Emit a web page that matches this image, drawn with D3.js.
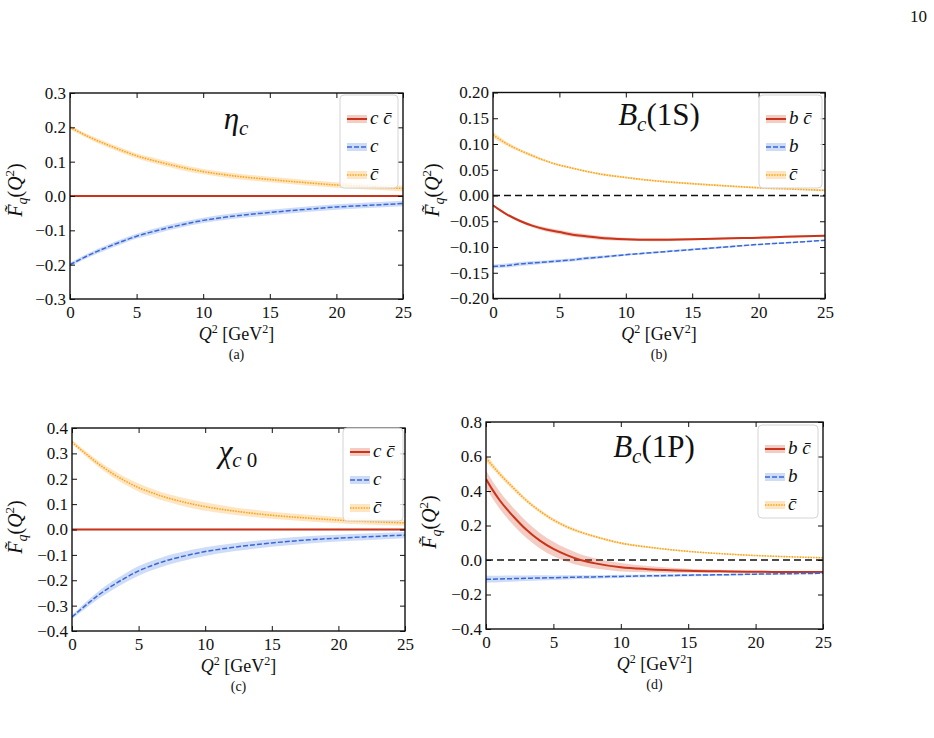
<!DOCTYPE html>
<html>
<head>
<meta charset="utf-8">
<script src="https://cdn.jsdelivr.net/npm/d3@7"></script>
<style>
  body { margin: 0; background: #fff; }
  svg text { font-family: "Liberation Serif", "Times New Roman", serif; fill: #111; }
</style>
</head>
<body>
<svg id="fig" width="934" height="738"></svg>
<script>
// Q^2 grid shared by every curve (GeV^2)
const q2 = [0, 0.5, 1, 2, 3, 4, 5, 6, 7, 8, 10, 12, 15, 18, 20, 22, 25];

// (a) eta_c
const etaQQ     = [0, 0, 0, 0, 0, 0, 0, 0, 0, 0, 0, 0, 0, 0, 0, 0, 0];
const etaQQErr  = [0.002, 0.002, 0.002, 0.002, 0.002, 0.002, 0.002, 0.002, 0.002, 0.002, 0.002, 0.002, 0.002, 0.002, 0.002, 0.002, 0.002];
const etaQ      = [-0.200, -0.190, -0.180, -0.162, -0.146, -0.131, -0.117, -0.106, -0.096, -0.087, -0.071, -0.060, -0.048, -0.038, -0.032, -0.028, -0.022];
const etaQErr   = [0.006, 0.006, 0.006, 0.007, 0.007, 0.007, 0.007, 0.008, 0.008, 0.008, 0.008, 0.008, 0.008, 0.008, 0.008, 0.008, 0.008];
const etaQbar   = [0.200, 0.190, 0.180, 0.162, 0.146, 0.131, 0.117, 0.106, 0.096, 0.087, 0.071, 0.060, 0.048, 0.038, 0.032, 0.028, 0.022];
const etaQbarErr= [0.006, 0.006, 0.006, 0.007, 0.007, 0.007, 0.007, 0.008, 0.008, 0.008, 0.008, 0.008, 0.008, 0.008, 0.008, 0.008, 0.008];

// (b) B_c(1S)
const bc1sQQ     = [-0.019, -0.028, -0.036, -0.049, -0.059, -0.066, -0.071, -0.076, -0.079, -0.082, -0.085, -0.086, -0.085, -0.083, -0.082, -0.080, -0.078];
const bc1sQQErr  = [0.001, 0.002, 0.002, 0.003, 0.003, 0.004, 0.004, 0.004, 0.004, 0.004, 0.003, 0.003, 0.002, 0.002, 0.002, 0.002, 0.002];
const bc1sQ      = [-0.138, -0.137, -0.136, -0.133, -0.131, -0.129, -0.127, -0.125, -0.122, -0.120, -0.115, -0.111, -0.105, -0.099, -0.095, -0.092, -0.087];
const bc1sQErr   = [0.004, 0.004, 0.004, 0.004, 0.004, 0.003, 0.003, 0.003, 0.003, 0.003, 0.002, 0.002, 0.002, 0.002, 0.001, 0.001, 0.001];
const bc1sQbar   = [0.118, 0.109, 0.101, 0.088, 0.077, 0.067, 0.059, 0.053, 0.047, 0.042, 0.035, 0.029, 0.023, 0.018, 0.015, 0.013, 0.010];
const bc1sQbarErr= [0.006, 0.005, 0.004, 0.003, 0.003, 0.002, 0.002, 0.002, 0.002, 0.002, 0.002, 0.002, 0.002, 0.002, 0.002, 0.002, 0.002];

// (c) chi_c0
const chiQQ     = [0, 0, 0, 0, 0, 0, 0, 0, 0, 0, 0, 0, 0, 0, 0, 0, 0];
const chiQQErr  = [0.003, 0.003, 0.003, 0.003, 0.003, 0.003, 0.003, 0.003, 0.003, 0.003, 0.003, 0.003, 0.003, 0.003, 0.003, 0.003, 0.003];
const chiQ      = [-0.345, -0.322, -0.300, -0.258, -0.222, -0.191, -0.163, -0.142, -0.124, -0.110, -0.087, -0.071, -0.053, -0.040, -0.034, -0.029, -0.022];
const chiQErr   = [0.008, 0.010, 0.012, 0.015, 0.017, 0.018, 0.019, 0.019, 0.019, 0.018, 0.017, 0.016, 0.015, 0.014, 0.013, 0.013, 0.012];
const chiQbar   = [0.345, 0.322, 0.300, 0.258, 0.222, 0.191, 0.165, 0.145, 0.127, 0.113, 0.090, 0.074, 0.056, 0.044, 0.037, 0.032, 0.026];
const chiQbarErr= [0.008, 0.009, 0.010, 0.012, 0.014, 0.015, 0.016, 0.016, 0.016, 0.016, 0.016, 0.015, 0.014, 0.013, 0.012, 0.012, 0.011];

// (d) B_c(1P)
const bc1pQQ     = [0.470, 0.405, 0.348, 0.255, 0.175, 0.112, 0.064, 0.028, 0.000, -0.018, -0.042, -0.053, -0.062, -0.066, -0.068, -0.069, -0.069];
const bc1pQQErr  = [0.050, 0.050, 0.050, 0.050, 0.048, 0.045, 0.042, 0.038, 0.034, 0.030, 0.024, 0.018, 0.012, 0.008, 0.006, 0.005, 0.004];
const bc1pQ      = [-0.112, -0.111, -0.110, -0.108, -0.106, -0.104, -0.103, -0.101, -0.099, -0.098, -0.095, -0.092, -0.088, -0.085, -0.082, -0.080, -0.077];
const bc1pQErr   = [0.020, 0.020, 0.019, 0.018, 0.016, 0.015, 0.013, 0.012, 0.011, 0.010, 0.009, 0.008, 0.007, 0.006, 0.005, 0.005, 0.004];
const bc1pQbar   = [0.590, 0.545, 0.500, 0.420, 0.345, 0.283, 0.232, 0.192, 0.162, 0.138, 0.098, 0.075, 0.050, 0.034, 0.026, 0.020, 0.013];
const bc1pQbarErr= [0.020, 0.018, 0.016, 0.014, 0.012, 0.011, 0.010, 0.009, 0.008, 0.007, 0.006, 0.005, 0.004, 0.003, 0.003, 0.003, 0.002];

// tick values
const xTicks = [0, 5, 10, 15, 20, 25];
const yTicksA = [-0.3, -0.2, -0.1, 0, 0.1, 0.2, 0.3];
const yTicksB = [-0.20, -0.15, -0.10, -0.05, 0, 0.05, 0.10, 0.15, 0.20];
const yTicksC = [-0.4, -0.3, -0.2, -0.1, 0, 0.1, 0.2, 0.3, 0.4];
const yTicksD = [-0.4, -0.2, 0, 0.2, 0.4, 0.6, 0.8];

const colRed = "#c9341a", colBlue = "#3868d8", colOrange = "#ffa312";
const bandRed = "rgba(215,90,60,0.30)", bandBlue = "rgba(95,140,230,0.30)", bandOrange = "rgba(255,175,70,0.33)";
const serif = "'Liberation Serif', 'Times New Roman', serif";

const svg = d3.select("#fig");

// page number
svg.append("text").attr("x", 927).attr("y", 22).attr("text-anchor", "end")
  .attr("font-family", serif).style("font-size", "17px").text("10");

const panels = [
  { tag: "(a)", x0: 70, x1: 403, y0: 93, y1: 299, dom: [-0.3, 0.3], ticks: yTicksA, fmt: ".1f",
    qq: etaQQ, qqErr: etaQQErr, q: etaQ, qErr: etaQErr, qb: etaQbar, qbErr: etaQbarErr,
    zero: false, names: ["c c\u0304", "c", "c\u0304"],
    leg: { x: 340, y: 95, w: 58 }, ylab: { x: 22, y: 190 },
    title: { x: 236, y: 129, parts: [["\u03b7", 31, "italic", 0], ["c", 21, "italic", 6]] } },
  { tag: "(b)", x0: 493, x1: 825, y0: 92.5, y1: 298.5, dom: [-0.2, 0.2], ticks: yTicksB, fmt: ".2f",
    qq: bc1sQQ, qqErr: bc1sQQErr, q: bc1sQ, qErr: bc1sQErr, qb: bc1sQbar, qbErr: bc1sQbarErr,
    zero: true, names: ["b c\u0304", "b", "c\u0304"],
    leg: { x: 759, y: 95, w: 63 }, ylab: { x: 439, y: 190 },
    title: { x: 659, y: 125, parts: [["B", 31, "italic", 0], ["c", 21, "italic", 6], ["(1S)", 31, "normal", -6]] } },
  { tag: "(c)", x0: 72, x1: 405, y0: 428, y1: 631, dom: [-0.4, 0.4], ticks: yTicksC, fmt: ".1f",
    qq: chiQQ, qqErr: chiQQErr, q: chiQ, qErr: chiQErr, qb: chiQbar, qbErr: chiQbarErr,
    zero: false, names: ["c c\u0304", "c", "c\u0304"],
    leg: { x: 343, y: 428, w: 60 }, ylab: { x: 22, y: 527 },
    title: { x: 238, y: 462, parts: [["\u03c7", 31, "italic", 0], ["c", 21, "italic", 5], [" 0", 21, "normal", 0]] } },
  { tag: "(d)", x0: 486, x1: 823, y0: 422, y1: 629, dom: [-0.4, 0.8], ticks: yTicksD, fmt: ".1f",
    qq: bc1pQQ, qqErr: bc1pQQErr, q: bc1pQ, qErr: bc1pQErr, qb: bc1pQbar, qbErr: bc1pQbarErr,
    zero: true, names: ["b c\u0304", "b", "c\u0304"],
    leg: { x: 758, y: 425, w: 60 }, ylab: { x: 436, y: 522 },
    title: { x: 654, y: 457, parts: [["B", 31, "italic", 0], ["c", 21, "italic", 6], ["(1P)", 31, "normal", -6]] } }
];

panels.forEach((p, pi) => drawPanel(p, pi));

function drawPanel(p, pi) {
  const x = d3.scaleLinear().domain([0, 25]).range([p.x0, p.x1]);
  const y = d3.scaleLinear().domain(p.dom).range([p.y1, p.y0]);
  const g = svg.append("g");

  g.append("clipPath").attr("id", "clip" + pi)
    .append("rect").attr("x", p.x0).attr("y", p.y0)
    .attr("width", p.x1 - p.x0).attr("height", p.y1 - p.y0);
  const plot = g.append("g").attr("clip-path", "url(#clip" + pi + ")");

  if (p.zero) {
    plot.append("line").attr("x1", p.x0).attr("x2", p.x1)
      .attr("y1", y(0)).attr("y2", y(0))
      .attr("stroke", "#111").attr("stroke-width", 1.5).attr("stroke-dasharray", "7,4");
  }

  const series = [
    { v: p.qq, e: p.qqErr, col: colRed, band: bandRed, dash: null, w: 2 },
    { v: p.q, e: p.qErr, col: colBlue, band: bandBlue, dash: "5,2", w: 1.5 },
    { v: p.qb, e: p.qbErr, col: colOrange, band: bandOrange, dash: "1.5,1.2", w: 1.6 }
  ];

  series.forEach(s => {
    const pts = q2.map((q, i) => ({ q: q, v: s.v[i], e: s.e[i] }));
    const area = d3.area().curve(d3.curveMonotoneX)
      .x(d => x(d.q)).y0(d => y(d.v - d.e)).y1(d => y(d.v + d.e));
    const line = d3.line().curve(d3.curveMonotoneX)
      .x(d => x(d.q)).y(d => y(d.v));
    plot.append("path").attr("d", area(pts)).attr("fill", s.band).attr("stroke", "none");
    plot.append("path").attr("d", line(pts)).attr("fill", "none")
      .attr("stroke", s.col).attr("stroke-width", s.w)
      .attr("stroke-dasharray", s.dash);
  });

  // axes: inward ticks on all four sides
  const fmt = d3.format(p.fmt);
  const axB = g.append("g").attr("transform", "translate(0," + p.y1 + ")")
    .call(d3.axisBottom(x).tickValues(xTicks).tickSize(-5).tickPadding(7).tickFormat(d3.format("d")));
  const axT = g.append("g").attr("transform", "translate(0," + p.y0 + ")")
    .call(d3.axisTop(x).tickValues(xTicks).tickSize(-5).tickFormat(""));
  const axL = g.append("g").attr("transform", "translate(" + p.x0 + ",0)")
    .call(d3.axisLeft(y).tickValues(p.ticks).tickSize(-5).tickPadding(4).tickFormat(fmt));
  const axR = g.append("g").attr("transform", "translate(" + p.x1 + ",0)")
    .call(d3.axisRight(y).tickValues(p.ticks).tickSize(-5).tickFormat(""));
  [axB, axT, axL, axR].forEach(a => {
    a.attr("font-family", serif).attr("font-size", 17);
    a.select(".domain").remove();
    a.selectAll("line").attr("stroke", "#111").attr("stroke-width", 1);
    a.selectAll("text").attr("fill", "#111");
  });

  g.append("rect").attr("x", p.x0).attr("y", p.y0)
    .attr("width", p.x1 - p.x0).attr("height", p.y1 - p.y0)
    .attr("fill", "none").attr("stroke", "#111").attr("stroke-width", 1.4);

  // legend
  const lg = g.append("g");
  lg.append("rect").attr("x", p.leg.x).attr("y", p.leg.y)
    .attr("width", p.leg.w).attr("height", 93).attr("rx", 4)
    .attr("fill", "#fff").attr("fill-opacity", 0.8)
    .attr("stroke", "#d4d4d4").attr("stroke-width", 1);
  series.forEach((s, i) => {
    const cy = p.leg.y + 24 + i * 28;
    const hx = p.leg.x + 7;
    lg.append("rect").attr("x", hx).attr("y", cy - 4).attr("width", 20).attr("height", 8)
      .attr("fill", s.band);
    lg.append("line").attr("x1", hx).attr("x2", hx + 20).attr("y1", cy).attr("y2", cy)
      .attr("stroke", s.col).attr("stroke-width", s.w).attr("stroke-dasharray", s.dash);
    lg.append("text").attr("x", hx + 23).attr("y", cy + 5)
      .style("font-size", "19px").style("font-style", "italic").text(p.names[i]);
  });

  // title
  const t = g.append("text").attr("x", p.title.x).attr("y", p.title.y).attr("text-anchor", "middle");
  p.title.parts.forEach(pt => {
    t.append("tspan").attr("dy", pt[3]).style("font-size", pt[1] + "px")
      .style("font-style", pt[2]).text(pt[0]);
  });

  // x label
  const xl = g.append("text").attr("x", (p.x0 + p.x1) / 2).attr("y", p.y1 + 41)
    .attr("text-anchor", "middle").style("font-size", "18px");
  xl.append("tspan").style("font-style", "italic").text("Q");
  xl.append("tspan").attr("dy", -7).style("font-size", "12px").text("2");
  xl.append("tspan").attr("dy", 7).text(" [GeV");
  xl.append("tspan").attr("dy", -7).style("font-size", "12px").text("2");
  xl.append("tspan").attr("dy", 7).text("]");

  // sub-figure tag
  g.append("text").attr("x", (p.x0 + p.x1) / 2).attr("y", p.y1 + 60)
    .attr("text-anchor", "middle").style("font-size", "14px").text(p.tag);

  // y label
  const yl = g.append("text")
    .attr("transform", "translate(" + p.ylab.x + "," + p.ylab.y + ") rotate(-90)")
    .attr("text-anchor", "middle").style("font-size", "20px");
  yl.append("tspan").style("font-style", "italic").text("F\u0303");
  yl.append("tspan").attr("dy", 5).style("font-size", "14px").style("font-style", "italic").text("q");
  yl.append("tspan").attr("dy", -5).text("(");
  yl.append("tspan").style("font-style", "italic").text("Q");
  yl.append("tspan").attr("dy", -8).style("font-size", "13px").text("2");
  yl.append("tspan").attr("dy", 8).text(")");
}
</script>
</body>
</html>
